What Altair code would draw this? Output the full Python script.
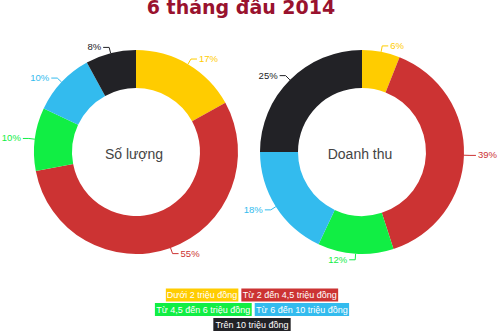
import altair as alt
import pandas as pd

# ---------------- data ----------------
title_text = "6 tháng đầu 2014"
categories = [
    "Dưới 2 triệu đồng",
    "Từ 2 đến 4,5 triệu đồng",
    "Từ 4,5 đến 6 triệu đồng",
    "Từ 6 đến 10 triệu đồng",
    "Trên 10 triệu đồng",
]
chart_names = ["Số lượng", "Doanh thu"]
so_luong = [17, 55, 10, 10, 8]
doanh_thu = [6, 39, 12, 18, 25]
series = [so_luong, doanh_thu]

# ---------------- style / layout ----------------
colors = ["#FFCC00", "#CC3333", "#11EE44", "#33BBEE", "#222226"]
label_colors = ["#F2BC00", "#CC3333", "#11DD44", "#33BBEE", "#333333"]
centers = [(136, 152), (362, 152)]
R_OUT, R_IN = 102, 64
LEAD, HOR = 6, 6
FONT = "Liberation Sans"
LBL_FS = 9.5
W, H = 500, 333

color_scale = alt.Scale(domain=categories, range=colors)
label_scale = alt.Scale(domain=categories, range=label_colors)

rows = []
for name, vals in zip(chart_names, series):
    for i, (c, v) in enumerate(zip(categories, vals)):
        rows.append({"chart": name, "cat": c, "idx": i, "value": v})
df = pd.DataFrame(rows)

layers = []
for name, (cx, cy) in zip(chart_names, centers):
    base = alt.Chart(df).transform_filter(alt.datum.chart == name)

    arc = base.mark_arc(outerRadius=R_OUT, innerRadius=R_IN).encode(
        theta=alt.Theta("value:Q", stack=True),
        order=alt.Order("idx:Q"),
        color=alt.Color("cat:N", scale=color_scale, legend=None),
        x=alt.value(cx),
        y=alt.value(cy),
    )

    geo = (
        base.transform_joinaggregate(total="sum(value)")
        .transform_window(cum="sum(value)", sort=[alt.SortField("idx")], frame=[None, 0])
        .transform_calculate(a="(datum.cum - datum.value / 2) / datum.total * 2 * PI")
        .transform_calculate(
            side="sin(datum.a) >= 0 ? 1 : -1",
            x1=f"{cx} + {R_OUT} * sin(datum.a)",
            y1=f"{cy} - {R_OUT} * cos(datum.a)",
            x2=f"{cx} + {R_OUT + LEAD} * sin(datum.a)",
            y2=f"{cy} - {R_OUT + LEAD} * cos(datum.a)",
            label="datum.value + '%'",
        )
        .transform_calculate(x3=f"datum.x2 + datum.side * {HOR}")
        .transform_calculate(tx="datum.x3 + datum.side * 2")
    )

    radial = geo.mark_rule(strokeWidth=1).encode(
        x=alt.X("x1:Q", scale=None, axis=None),
        y=alt.Y("y1:Q", scale=None, axis=None),
        x2="x2:Q",
        y2="y2:Q",
        color=alt.Color("cat:N", scale=label_scale, legend=None),
    )
    horiz = geo.mark_rule(strokeWidth=1).encode(
        x=alt.X("x2:Q", scale=None, axis=None),
        y=alt.Y("y2:Q", scale=None, axis=None),
        x2="x3:Q",
        color=alt.Color("cat:N", scale=label_scale, legend=None),
    )
    txt_r = geo.transform_filter("datum.side > 0").mark_text(
        align="left", baseline="middle", font=FONT, fontSize=LBL_FS
    ).encode(
        x=alt.X("tx:Q", scale=None, axis=None),
        y=alt.Y("y2:Q", scale=None, axis=None),
        text="label:N",
        color=alt.Color("cat:N", scale=label_scale, legend=None),
    )
    txt_l = geo.transform_filter("datum.side < 0").mark_text(
        align="right", baseline="middle", font=FONT, fontSize=LBL_FS
    ).encode(
        x=alt.X("tx:Q", scale=None, axis=None),
        y=alt.Y("y2:Q", scale=None, axis=None),
        text="label:N",
        color=alt.Color("cat:N", scale=label_scale, legend=None),
    )
    center = alt.Chart(pd.DataFrame({"t": [name]})).mark_text(
        align="center", baseline="middle", font=FONT, fontSize=14, color="#444444"
    ).encode(text="t:N", x=alt.value(cx - 2), y=alt.value(cy + 3))

    layers += [arc, radial, horiz, txt_r, txt_l, center]

# ---------------- legend (custom boxes) ----------------
LEG_FS = 9


def text_width(s, fs):
    w = 0.0
    for ch in s:
        if ch in " itrlj,.":
            w += 0.27
        elif ch.isupper():
            w += 0.64
        else:
            w += 0.54
    return w * fs


legend_rows = [0, 0, 1, 1, 2]
row_y = [295, 309.5, 324.5]
PAD, GAP, LEG_CX, BOX_H = 3, 3, 252, 13
widths = [text_width(c, LEG_FS) + 2 * PAD for c in categories]
leg = []
for r in sorted(set(legend_rows)):
    members = [i for i, rr in enumerate(legend_rows) if rr == r]
    total = sum(widths[i] for i in members) + GAP * (len(members) - 1)
    x = LEG_CX - total / 2
    for i in members:
        leg.append({
            "cat": categories[i], "x0": x, "x1": x + widths[i],
            "xm": x + widths[i] / 2, "y0": row_y[r] - BOX_H / 2,
            "y1": row_y[r] + BOX_H / 2, "ym": row_y[r],
        })
        x += widths[i] + GAP
leg_df = pd.DataFrame(leg)

leg_rect = alt.Chart(leg_df).mark_rect().encode(
    x=alt.X("x0:Q", scale=None, axis=None), x2="x1:Q",
    y=alt.Y("y0:Q", scale=None, axis=None), y2="y1:Q",
    color=alt.Color("cat:N", scale=color_scale, legend=None),
)
leg_text = alt.Chart(leg_df).mark_text(
    align="center", baseline="middle", font=FONT, fontSize=LEG_FS, color="white"
).encode(
    x=alt.X("xm:Q", scale=None, axis=None),
    y=alt.Y("ym:Q", scale=None, axis=None),
    text="cat:N",
)

title = alt.Chart(pd.DataFrame({"t": [title_text]})).mark_text(
    align="center", baseline="alphabetic", font="DejaVu Sans", fontWeight="bold",
    fontSize=19, color="#99122E"
).encode(text="t:N", x=alt.value(241), y=alt.value(14))

chart = alt.layer(*layers, leg_rect, leg_text, title).resolve_scale(
    theta="independent"
).properties(
    width=W, height=H, autosize=alt.AutoSizeParams(type="none"), padding=0,
    background="white",
).configure_view(strokeWidth=0)

chart.save("out.html", embed_options={"renderer": "svg", "actions": False})
